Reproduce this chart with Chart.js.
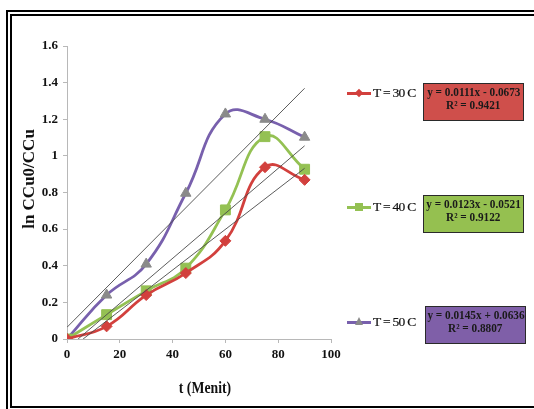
<!DOCTYPE html>
<html><head><meta charset="utf-8">
<script src="https://cdn.jsdelivr.net/npm/chart.js@4.4.0/dist/chart.umd.min.js"></script>
<style>
html,body{margin:0;padding:0;background:#fff;width:534px;height:409px;overflow:hidden;}
#wrap{position:relative;width:534px;height:409px;overflow:hidden;background:#fff;}
canvas{position:absolute;left:0;top:0;}
.frame{position:absolute;border:2px solid #000;box-sizing:border-box;}
.ttl{position:absolute;font-family:"Liberation Serif",serif;font-weight:bold;color:#111;white-space:nowrap;}
.leg{position:absolute;height:20px;}
.legline{position:absolute;left:0;top:9px;width:24px;height:2.5px;}
.legtext{position:absolute;left:26px;top:1px;font-family:"Liberation Serif",serif;font-size:13.5px;line-height:18px;color:#111;white-space:nowrap;letter-spacing:-0.7px;-webkit-text-stroke:0.2px #111;}
.mk{position:absolute;}
.box{position:absolute;width:101px;height:38px;border:1px solid #2a2a2a;box-sizing:border-box;font-family:"Liberation Serif",serif;font-weight:bold;font-size:12.5px;line-height:12.5px;color:#1a1a1a;padding-top:2px;white-space:nowrap;display:flex;flex-direction:column;align-items:center;}
.box span{display:block;flex:none;transform:scaleX(0.9);transform-origin:center;}
</style></head>
<body><div id="wrap">
<canvas id="c" width="534" height="409"></canvas>
<div class="frame" style="left:6px;top:10px;width:600px;height:402px;"></div>
<div class="frame" style="left:10px;top:14px;width:600px;height:394px;"></div>
<div class="ttl" id="ytitle" style="font-size:17px;left:29px;top:179px;transform:translate(-50%,-50%) rotate(-90deg);">ln CCu0/CCu</div>
<div class="ttl" id="xtitle" style="font-size:16px;left:205px;top:388px;transform:translate(-50%,-50%) scaleX(0.86);">t (Menit)</div>
<div id="legends"></div>
</div>
<script>
// ---- data ----
const xValues = [0, 15, 30, 45, 60, 75, 90];
const t30 = [0, 0.069, 0.24, 0.36, 0.536, 0.938, 0.869];
const t40 = [0, 0.133, 0.263, 0.387, 0.705, 1.105, 0.927];
const t50 = [0, 0.24, 0.409, 0.796, 1.229, 1.2, 1.102];
// trendline end points
const trend30X = [6.1, 90], trend30Y = [0, 0.932];
const trend40X = [4.2, 90], trend40Y = [0, 1.055];
const trend50X = [0, 90], trend50Y = [0.064, 1.369];
const seriesNames = ['T = 30 C', 'T = 40 C', 'T = 50 C'];
const equations = ['y = 0.0111x - 0.0673', 'y = 0.0123x - 0.0521', 'y = 0.0145x + 0.0636'];
const rSquared = ['R\u00B2 = 0.9421', 'R\u00B2 = 0.9122', 'R\u00B2 = 0.8807'];
const xTickLabels = ['0', '20', '40', '60', '80', '100'];
const yTickLabels = ['0', '0.2', '0.4', '0.6', '0.8', '1', '1.2', '1.4', '1.6'];

const pts = (xs, ys) => xs.map((x, i) => ({x: x, y: ys[i]}));
const RED = '#d2403d', GREEN = '#94c153', PURPLE = '#7860ad', TRI = '#8a8a8a';
const TREND = '#4a4a4a';

function trend(xs, ys) {
  return {data: pts(xs, ys), borderColor: TREND, borderWidth: 0.9, pointRadius: 0, tension: 0, fill: false};
}
const tickFont = {family: '"Liberation Serif", serif', size: 13, weight: 'bold'};

new Chart(document.getElementById('c'), {
  type: 'line',
  data: {
    datasets: [
      trend(trend50X, trend50Y),
      trend(trend40X, trend40Y),
      trend(trend30X, trend30Y),
      {data: pts(xValues, t30), borderColor: RED, backgroundColor: RED, borderWidth: 2.8,
       pointStyle: 'rectRot', pointRadius: 5.5, pointBorderWidth: 1, tension: 0.45},
      {data: pts(xValues, t40), borderColor: GREEN, backgroundColor: GREEN, borderWidth: 2.8,
       pointStyle: 'rect', pointRadius: 7, pointBorderWidth: 1, tension: 0.45},
      {data: pts(xValues, t50), borderColor: PURPLE, backgroundColor: TRI, pointBorderColor: TRI, borderWidth: 2.8,
       pointStyle: 'triangle', pointRadius: 6, pointBorderWidth: 1, tension: 0.45}
    ]
  },
  options: {
    responsive: false, animation: false, devicePixelRatio: 1,
    layout: {padding: {left: 0, top: 46, right: 203, bottom: 0}},
    plugins: {legend: {display: false}, tooltip: {enabled: false}},
    scales: {
      x: {type: 'linear', min: 0, max: 100,
          ticks: {stepSize: 20, font: tickFont, color: '#111', padding: 4,
                  callback: (v, i) => xTickLabels[i]},
          grid: {drawOnChartArea: false, drawTicks: true, tickLength: 4, color: '#b8b8b8'},
          border: {color: '#b8b8b8', width: 1},
          afterFit: s => { s.height = 70; }},
      y: {type: 'linear', min: 0, max: 1.6,
          ticks: {stepSize: 0.2, font: tickFont, color: '#111', padding: 5,
                  callback: (v, i) => yTickLabels[i]},
          grid: {drawOnChartArea: false, drawTicks: true, tickLength: 4, color: '#b8b8b8'},
          border: {color: '#b8b8b8', width: 1},
          afterFit: s => { s.width = 67; }}
    }
  }
});

// ---- legend & equation boxes ----
const legendY = [93, 207, 322];
const boxPos = [[423, 83], [423, 195], [425, 306]];
const boxFill = ['#cf4f4b', '#95c050', '#7f5fa8'];
const lineCol = [RED, GREEN, PURPLE];
const L = document.getElementById('legends');
function marker(i) {
  const m = document.createElement('div'); m.className = 'mk';
  if (i === 0) { m.style.cssText = 'left:8.5px;top:6.5px;width:6px;height:6px;background:' + RED + ';transform:rotate(45deg);'; }
  else if (i === 1) { m.style.cssText = 'left:7.5px;top:6px;width:8px;height:8px;background:' + GREEN + ';'; }
  else { m.style.cssText = 'left:7.5px;top:5px;width:0;height:0;border-left:4.5px solid transparent;border-right:4.5px solid transparent;border-bottom:8px solid ' + TRI + ';'; }
  return m;
}
seriesNames.forEach((name, i) => {
  const g = document.createElement('div'); g.className = 'leg';
  g.style.left = '347px'; g.style.top = (legendY[i] - 10) + 'px';
  const ln = document.createElement('div'); ln.className = 'legline'; ln.style.background = lineCol[i];
  g.appendChild(ln); g.appendChild(marker(i));
  const tx = document.createElement('div'); tx.className = 'legtext'; tx.textContent = name;
  g.appendChild(tx); L.appendChild(g);
  const b = document.createElement('div'); b.className = 'box';
  b.style.left = boxPos[i][0] + 'px'; b.style.top = boxPos[i][1] + 'px'; b.style.background = boxFill[i];
  b.innerHTML = '<span>' + equations[i] + '</span><span>' + rSquared[i] + '</span>';
  L.appendChild(b);
});
</script>
</body></html>
